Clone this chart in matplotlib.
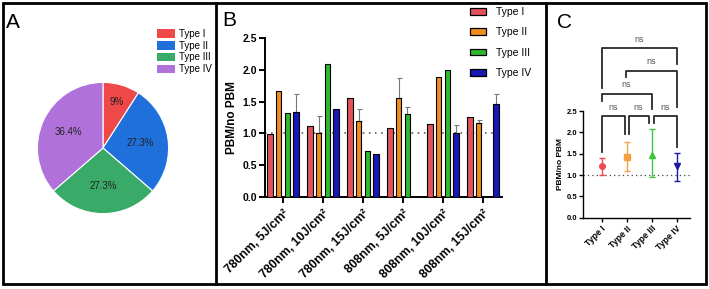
import numpy as np
import matplotlib
matplotlib.use("Agg")
import matplotlib.pyplot as plt
from matplotlib.patches import Rectangle, Patch
from matplotlib.lines import Line2D

plt.rcParams['font.family'] = ['Liberation Sans', 'DejaVu Sans']

# ---- data ----
# panel A: share of each type (counts out of 11)
pie_types = ['Type I', 'Type II', 'Type III', 'Type IV']
pie_counts = [1, 3, 3, 4]
pie_labels = ['9%', '27.3%', '27.3%', '36.4%']
pie_colors = ['#EE4848', '#2070DC', '#3AAA68', '#B072DA']

# panel B: PBM/no PBM per condition
conditions = ['780nm, 5J/cm²', '780nm, 10J/cm²', '780nm, 15J/cm²',
              '808nm, 5J/cm²', '808nm, 10J/cm²', '808nm, 15J/cm²']
typeI = [0.99, 1.11, 1.55, 1.09, 1.14, 1.26]
typeII = [1.67, 1.01, 1.19, 1.56, 1.89, 1.17]
typeIII = [1.32, 2.09, 0.72, 1.31, 2.00, np.nan]
typeIV = [1.34, 1.39, 0.68, np.nan, 1.00, 1.47]
errI = [0, 0, 0, 0, 0, 0]
errII = [0, 0.27, 0.19, 0.32, 0, 0.04]
errIII = [0, 0, 0, 0.11, 0, 0]
errIV = [0.28, 0, 0, 0, 0.13, 0.15]
bar_colors = ['#E2525A', '#F08C20', '#2DB82D', '#1818B4']

# panel C: mean and range per type
c_mean = [1.21, 1.43, 1.48, 1.21]
c_low = [1.00, 1.09, 0.95, 0.86]
c_high = [1.41, 1.77, 2.07, 1.52]
c_colors = ['#EC4A50', '#F5A040', '#3CC83C', '#1A1AA0']
c_markers = ['o', 's', '^', 'v']

fig = plt.figure(figsize=(7.09, 2.89), dpi=100)
W, H = 709, 289


def px_axes(x0, y0, x1, y1):
    # pixel box (top-left origin) -> figure axes
    return fig.add_axes([x0 / W, 1 - y1 / H, (x1 - x0) / W, (y1 - y0) / H])


# ==========================================
# A. pie
# ==========================================
axA = px_axes(21, 66, 185, 230)
wedges, texts, autotexts = axA.pie(
    pie_counts, colors=pie_colors, startangle=90, counterclock=False,
    autopct='%1.1f%%', pctdistance=0.58,
    wedgeprops=dict(edgecolor='white', linewidth=0.8),
    textprops=dict(fontsize=7, color='#222222'))
for t, lab in zip(autotexts, pie_labels):
    t.set_text(lab)
x, y = autotexts[0].get_position()
autotexts[0].set_position((x * 1.27, y * 1.27))
axA.set_aspect('equal')
handles = [Patch(facecolor=c, edgecolor='none') for c in pie_colors]
axA.legend(handles, pie_types, loc='upper left', bbox_to_anchor=(157 / W, 1 - 29 / H),
           bbox_transform=fig.transFigure, frameon=False, fontsize=7,
           handlelength=1.85, handleheight=0.95, labelspacing=0.18,
           handletextpad=0.45, borderpad=0, borderaxespad=0)

# ==========================================
# B. grouped bars
# ==========================================
axB = px_axes(264.7, 38.3, 502, 196.7)
x = np.arange(len(conditions))
step = 0.2167
series = [typeI, typeII, typeIII, typeIV]
errs = [errI, errII, errIII, errIV]
for k, (vals, err, col, name) in enumerate(zip(series, errs, bar_colors, pie_types)):
    pos = x + (k - 1.5) * step
    vals = np.array(vals, dtype=float)
    ok = ~np.isnan(vals)
    axB.bar(pos[ok], vals[ok], width=0.135, color=col, edgecolor='black',
            linewidth=0.8, label=name, zorder=3)
    err = np.array(err)
    e_ok = ok & (err > 0)
    if e_ok.any():
        axB.errorbar(pos[e_ok], vals[e_ok], yerr=[np.zeros(e_ok.sum()), err[e_ok]],
                     fmt='none', ecolor='#777777', elinewidth=0.8, capsize=1.8,
                     capthick=0.8, zorder=2)
axB.axhline(1.0, color='#444444', linestyle=(0, (1, 3)), linewidth=1.1, zorder=1)
axB.set_xlim(-0.46, 5.475)
axB.set_ylim(0, 2.5)
axB.set_yticks([0, 0.5, 1.0, 1.5, 2.0, 2.5])
axB.set_yticklabels(['0.0', '0.5', '1.0', '1.5', '2.0', '2.5'], fontweight='bold', fontsize=7.5)
axB.set_xticks(x)
axB.set_xticklabels(conditions, rotation=45, ha='right', rotation_mode='anchor',
                    fontweight='bold', fontsize=8.8)
axB.tick_params(axis='x', length=4, width=1.4, pad=4)
axB.tick_params(axis='y', length=4, width=1.4, pad=1.5)
axB.set_ylabel('PBM/no PBM', fontweight='bold', fontsize=8.5, labelpad=3)
for s in ['top', 'right']:
    axB.spines[s].set_visible(False)
for s in ['left', 'bottom']:
    axB.spines[s].set_linewidth(1.4)
leg_handles = [Rectangle((0, 0), 1, 1, facecolor=c, edgecolor='black', linewidth=0.9)
               for c in bar_colors]
axB.legend(leg_handles, pie_types, loc='upper left', bbox_to_anchor=(470 / W, 1 - 7 / H),
           bbox_transform=fig.transFigure, frameon=False, fontsize=7.5,
           handlelength=1.55, handleheight=0.6, labelspacing=1.0,
           handletextpad=0.9, borderpad=0, borderaxespad=0)

# ==========================================
# C. mean + range with brackets
# ==========================================
axC = px_axes(583.3, 111, 690, 217.7)
xc = np.arange(len(c_mean))
for i in range(len(c_mean)):
    axC.errorbar(xc[i], c_mean[i],
                 yerr=[[c_mean[i] - c_low[i]], [c_high[i] - c_mean[i]]],
                 fmt=c_markers[i], color=c_colors[i], markersize=4,
                 elinewidth=1.0, capsize=2.5, capthick=1.0, zorder=3)
axC.axhline(1.0, color='#444444', linestyle=(0, (1, 2.5)), linewidth=0.9, zorder=1)
axC.set_xlim(-0.73, 3.53)
axC.set_ylim(0, 2.5)
axC.set_yticks([0, 0.5, 1.0, 1.5, 2.0, 2.5])
axC.set_yticklabels(['0.0', '0.5', '1.0', '1.5', '2.0', '2.5'], fontweight='bold', fontsize=5.5)
axC.set_xticks(xc)
axC.set_xticklabels(pie_types, rotation=45, ha='right', rotation_mode='anchor',
                    fontweight='bold', fontsize=6.3)
axC.tick_params(axis='both', length=3, width=1.0, pad=1.5)
axC.set_ylabel('PBM/no PBM', fontweight='bold', fontsize=6, labelpad=2)
for s in ['top', 'right']:
    axC.spines[s].set_visible(False)
for s in ['left', 'bottom']:
    axC.spines[s].set_linewidth(1.0)

# brackets: (x left, x right, top, left leg bottom, right leg bottom, label y)
brackets = [
    (0.0, 0.92, 2.38, 1.55, 1.95, 2.59),
    (1.08, 1.88, 2.38, 1.95, 2.21, 2.59),
    (2.08, 3.0, 2.38, 2.21, 1.66, 2.59),
    (0.0, 2.0, 2.90, 2.74, 2.55, 3.11),
    (0.98, 3.0, 3.44, 3.30, 2.60, 3.65),
    (0.0, 3.0, 3.97, 3.05, 3.61, 4.18),
]
for xl, xr, top, bl, br, ty in brackets:
    axC.plot([xl, xl, xr, xr], [bl, top, top, br], color='#2a2a2a', linewidth=1.3,
             clip_on=False, zorder=2)
    axC.text((xl + xr) / 2, ty, 'ns', ha='center', va='center', fontsize=6.5,
             color='#555555', clip_on=False)

# ==========================================
# panel letters and frames
# ==========================================
fig.text(13 / W, 1 - 23 / H, 'A', fontsize=15, ha='center', va='center')
fig.text(229 / W, 1 - 20 / H, 'B', fontsize=15, ha='center', va='center')
fig.text(564 / W, 1 - 22 / H, 'C', fontsize=15, ha='center', va='center')

fig.patches.append(Rectangle((3 / W, 5 / H), 703 / W, 281 / H, transform=fig.transFigure,
                             fill=False, edgecolor='black', linewidth=2.0))
for xd in [215.7, 545.7]:
    fig.lines.append(Line2D([xd / W, xd / W], [5 / H, 286 / H], transform=fig.transFigure,
                            color='black', linewidth=2.0))

fig.savefig('out.png', dpi=100)
